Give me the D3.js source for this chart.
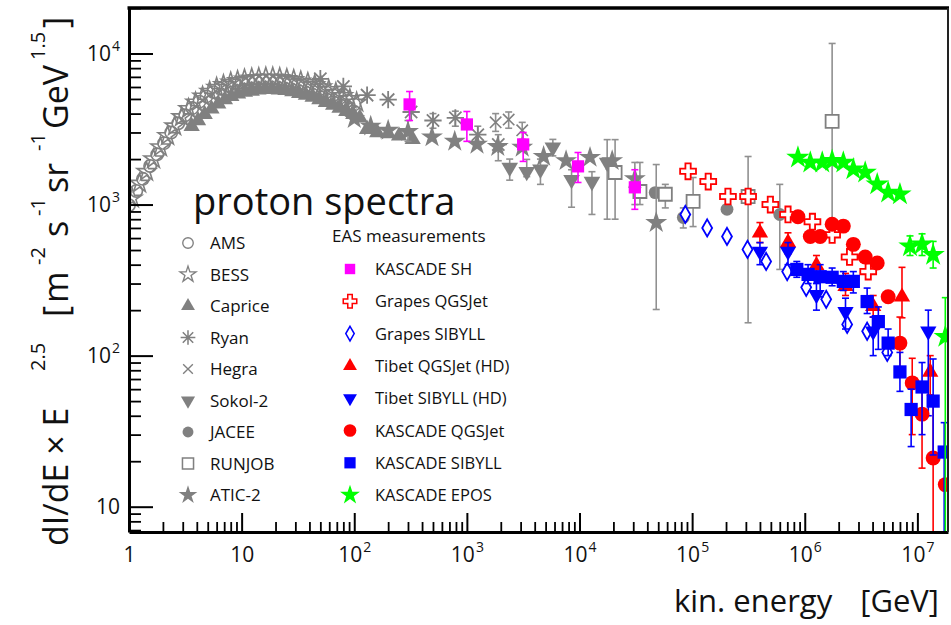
<!DOCTYPE html>
<html>
<head>
<meta charset="utf-8">
<script src="https://cdn.jsdelivr.net/npm/d3@7"></script>
<style>
  body { margin: 0; background: #fff; }
  svg { display: block; }
  text { font-family: "Open Sans", "DejaVu Sans", sans-serif; fill: #111; }
</style>
</head>
<body>
<svg id="chart" width="951" height="625"></svg>
<script>
// ---------- data: kinetic energy [GeV] and E^2.5-weighted flux ----------
const amsE = [1.0, 1.16, 1.33, 1.54, 1.78, 2.05, 2.37, 2.74, 3.16, 3.65, 4.22, 4.87, 5.62, 6.49, 7.5, 8.66, 10, 11.5, 13.3, 15.4, 17.8, 20.5, 23.7, 27.4, 31.6, 36.5, 42.2, 48.7, 56.2, 65, 75, 86.6, 100];
const amsF = [990, 1230, 1480, 1800, 2150, 2550, 3000, 3450, 3900, 4350, 4800, 5200, 5550, 5850, 6100, 6300, 6450, 6550, 6600, 6650, 6650, 6600, 6500, 6400, 6250, 6100, 5950, 5750, 5550, 5300, 5100, 4850, 4600];

const bessE = [1.07, 1.24, 1.43, 1.65, 1.9, 2.2, 2.54, 2.93, 3.38, 3.9, 4.5, 5.2, 6.0, 6.9, 8.0, 9.2, 10.6, 12.3, 14.2, 16.4, 18.9, 21.8, 25.2, 29, 33.5, 38.7, 44.6, 51.5, 59.4, 68.6, 79.1, 91.3, 105];
const bessF = [1100, 1380, 1650, 2000, 2400, 2850, 3300, 3800, 4300, 4750, 5200, 5600, 5950, 6200, 6450, 6600, 6750, 6850, 6900, 6950, 6950, 6900, 6800, 6700, 6550, 6400, 6200, 6000, 5750, 5500, 5250, 5000, 4750];

const capriceE = [3.6, 4.1, 4.7, 5.4, 6.2, 7.1, 8.1, 9.3, 10.7, 12.3, 14.1, 16.2, 18.6, 21.4, 24.5, 28.2, 32.4, 37.2, 42.7, 49, 56, 65, 74, 85, 98, 112, 130, 160, 200, 250, 330];
const capriceF = [3300, 3600, 3950, 4300, 4650, 4950, 5200, 5400, 5550, 5650, 5750, 5800, 5800, 5750, 5700, 5600, 5450, 5300, 5150, 4950, 4750, 4550, 4350, 4150, 3950, 3750, 3150, 3000, 2950, 2850, 2700];

const ryanE = [50, 80, 130, 200, 320, 500, 790, 1250, 1900];
const ryanF = [6800, 6050, 5300, 4950, 4100, 3600, 3750, 2900, 2500];
const ryanLo = [null, null, null, null, null, 3200, 3300, 2500, 1950];
const ryanHi = [null, null, null, null, null, 4000, 4150, 3300, 2900];

const hegraE = [1800, 2350, 3100];
const hegraF = [3500, 3650, 3100];
const hegraLo = [3050, 3200, 2700];
const hegraHi = [4000, 4100, 3500];

const sokolE = [2400, 3400, 4500, 5800, 8500, 12900, 17600];
const sokolF = [1760, 1650, 1710, 2390, 1460, 1420, 1900];
const sokolLo = [1450, 1530, 1360, 2100, 960, 860, 800];
const sokolHi = [2000, 1990, 2000, 2700, 1700, 1650, 2690];

const jaceeE = [47000, 83500, 204000, 600000];
const jaceeF = [1200, 820, 930, 860];
const jaceeLo = [null, 700, null, 372];
const jaceeHi = [null, 950, null, 1360];

const runjobE = [20700, 34400, 57800, 102000, 314000, 1750000];
const runjobF = [1630, 1220, 1170, 1050, 1130, 3550];
const runjobLo = [800, 1000, 950, 715, 165, 615];
const runjobHi = [2690, 1900, 1360, 1510, 2080, 11650];

const aticE = [100, 140, 200, 300, 490, 780, 1230, 1880, 3100, 4800, 7600, 12400, 19500, 31000, 48000];
const aticF = [3700, 3300, 3100, 3040, 2800, 2620, 2500, 2420, 2390, 2080, 1950, 2050, 1950, 1480, 760];
const aticLo = [null, null, null, 2620, null, null, null, null, null, null, null, null, null, 1000, 202];
const aticHi = [null, null, null, 3600, null, null, null, null, null, null, null, null, null, 1900, 1840];

const kascadeShE = [310, 1000, 3160, 9700, 31000];
const kascadeShF = [4600, 3390, 2500, 1790, 1300];
const kascadeShLo = [3600, 2620, 1930, 1400, 930];
const kascadeShHi = [5600, 4130, 3000, 2210, 1700];

const grapesQgsE = [92000, 139000, 208000, 314000, 495000, 710000, 1170000, 1750000, 2500000, 3660000];
const grapesQgsF = [1660, 1420, 1130, 1130, 1000, 860, 770, 630, 450, 360];

const grapesSibE = [87000, 136000, 204000, 310000, 454000, 698000, 1030000, 1550000, 2380000, 3580000, 5400000];
const grapesSibF = [860, 700, 615, 505, 420, 360, 283, 236, 161, 145, 105];

const tibetQgsE = [400000, 710000, 1270000, 2300000, 4050000, 7300000, 13000000];
const tibetQgsF = [650, 560, 395, 288, 212, 245, 78];
const tibetQgsLo = [560, 470, 350, 250, 180, 178, 55];
const tibetQgsHi = [760, 650, 460, 350, 250, 384, 100];

const tibetSibE = [400000, 710000, 1270000, 2300000, 4050000, 12500000];
const tibetSibF = [490, 490, 253, 195, 145, 145];
const tibetSibLo = [400, 400, 200, 150, 100, 40];
const tibetSibHi = [560, 560, 300, 240, 180, 200];

const kascadeQgsE = [870000, 1120000, 1370000, 1750000, 2200000, 2700000, 3440000, 4400000, 5500000, 7000000, 9000000, 11000000, 13800000, 17700000];
const kascadeQgsF = [830, 615, 615, 740, 720, 545, 450, 410, 245, 121, 66, 41, 21, 14];
const kascadeQgsLo = [null, null, null, null, null, null, null, null, null, 78, 30, 18, 1, null];
const kascadeQgsHi = [null, null, null, null, null, null, null, null, null, 180, 96, 60, 49, null];

const kascadeSibE = [850000, 1070000, 1370000, 1750000, 2200000, 2700000, 3580000, 4500000, 5500000, 7000000, 8800000, 11000000, 13800000, 17300000];
const kascadeSibF = [372, 345, 333, 330, 310, 310, 228, 168, 121, 78, 44, 62, 50, 23];
const kascadeSibLo = [330, 300, 245, 290, 270, 260, 190, 110, 100, 58, 25, 30, 22, 1];
const kascadeSibHi = [420, 400, 400, 380, 360, 360, 280, 210, 150, 105, 60, 90, 95, 36];

const kascadeEposE = [870000, 1120000, 1430000, 1750000, 2200000, 2700000, 3440000, 4400000, 5500000, 7000000, 8600000, 11000000, 13800000, 17700000];
const kascadeEposF = [2050, 1900, 1900, 1950, 1900, 1710, 1630, 1360, 1200, 1170, 530, 545, 465, 133];
const kascadeEposLo = [null, null, null, null, null, null, null, null, null, null, 460, 460, 380, 1];
const kascadeEposHi = [null, null, null, null, null, null, null, null, null, null, 620, 640, 570, 242];

const yTickLabels = [[10, "10", ""], [100, "10", "2"], [1000, "10", "3"], [10000, "10", "4"]];
const xTickLabels = [[1, "1", ""], [10, "10", ""], [1e2, "10", "2"], [1e3, "10", "3"], [1e4, "10", "4"], [1e5, "10", "5"], [1e6, "10", "6"], [1e7, "10", "7"]];

// ---------- layout ----------
const svg = d3.select("#chart");
const X0 = 129, X1 = 948, Y0 = 8, Y1 = 532;
const x = d3.scaleLog().domain([1, 1.87e7]).range([X0, X1]);
const y = d3.scaleLog().domain([6.8, 2.0e4]).range([Y1, Y0]);

const GRAY = "#808080", GRAY_ERR = "#909090";

// ---------- marker shapes ----------
const symbolAsterisk = {
  draw(ctx, size) {
    const r = Math.sqrt(size) / 2;
    for (let k = 0; k < 4; k++) {
      const a = k * Math.PI / 4;
      ctx.moveTo(r * Math.cos(a), r * Math.sin(a));
      ctx.lineTo(-r * Math.cos(a), -r * Math.sin(a));
    }
  }
};
const symbolX = {
  draw(ctx, size) {
    const r = Math.sqrt(size) / 2 * Math.SQRT1_2;
    ctx.moveTo(-r, -r); ctx.lineTo(r, r);
    ctx.moveTo(-r, r); ctx.lineTo(r, -r);
  }
};

const styles = {
  ams:      { type: d3.symbolCircle,   size: 120, fill: "none",    stroke: GRAY, sw: 1.6 },
  bess:     { type: d3.symbolStar,     size: 110, fill: "none",    stroke: GRAY, sw: 1.6 },
  caprice:  { type: d3.symbolTriangle, size: 115, fill: GRAY,      stroke: "none", sw: 0 },
  ryan:     { type: symbolAsterisk,    size: 300, fill: "none",    stroke: GRAY, sw: 1.8 },
  hegra:    { type: symbolX,           size: 260, fill: "none",    stroke: GRAY, sw: 1.6 },
  sokol:    { type: d3.symbolTriangle, size: 120, fill: GRAY,      stroke: "none", sw: 0, rot: 180 },
  jacee:    { type: d3.symbolCircle,   size: 130, fill: GRAY,      stroke: "none", sw: 0 },
  runjob:   { type: d3.symbolSquare,   size: 170, fill: "#fff",    stroke: GRAY, sw: 1.8 },
  atic:     { type: d3.symbolStar,     size: 150, fill: GRAY,      stroke: "none", sw: 0 },
  kSH:      { type: d3.symbolSquare,   size: 150, fill: "#ff00ff", stroke: "none", sw: 0 },
  gQgs:     { type: d3.symbolCross,    size: 140, fill: "#fff",    stroke: "#ff0000", sw: 1.8 },
  gSib:     { type: d3.symbolDiamond,  size: 85,  fill: "#fff",    stroke: "#0000ff", sw: 1.8 },
  tQgs:     { type: d3.symbolTriangle, size: 115, fill: "#ff0000", stroke: "none", sw: 0 },
  tSib:     { type: d3.symbolTriangle, size: 115, fill: "#0000ff", stroke: "none", sw: 0, rot: 180 },
  kQgs:     { type: d3.symbolCircle,   size: 175, fill: "#ff0000", stroke: "none", sw: 0 },
  kSib:     { type: d3.symbolSquare,   size: 175, fill: "#0000ff", stroke: "none", sw: 0 },
  kEpos:    { type: d3.symbolStar,     size: 170, fill: "#00ff00", stroke: "none", sw: 0 }
};

const series = [
  { st: "ams",     E: amsE,        F: amsF },
  { st: "bess",    E: bessE,       F: bessF },
  { st: "caprice", E: capriceE,    F: capriceF },
  { st: "ryan",    E: ryanE,       F: ryanF,       lo: ryanLo,       hi: ryanHi },
  { st: "hegra",   E: hegraE,      F: hegraF,      lo: hegraLo,      hi: hegraHi },
  { st: "sokol",   E: sokolE,      F: sokolF,      lo: sokolLo,      hi: sokolHi },
  { st: "jacee",   E: jaceeE,      F: jaceeF,      lo: jaceeLo,      hi: jaceeHi },
  { st: "runjob",  E: runjobE,     F: runjobF,     lo: runjobLo,     hi: runjobHi },
  { st: "atic",    E: aticE,       F: aticF,       lo: aticLo,       hi: aticHi },
  { st: "kSH",     E: kascadeShE,  F: kascadeShF,  lo: kascadeShLo,  hi: kascadeShHi, errColor: "#ff00ff" },
  { st: "gQgs",    E: grapesQgsE,  F: grapesQgsF },
  { st: "gSib",    E: grapesSibE,  F: grapesSibF },
  { st: "tQgs",    E: tibetQgsE,   F: tibetQgsF,   lo: tibetQgsLo,   hi: tibetQgsHi,   errColor: "#ff0000" },
  { st: "tSib",    E: tibetSibE,   F: tibetSibF,   lo: tibetSibLo,   hi: tibetSibHi,   errColor: "#0000ff" },
  { st: "kQgs",    E: kascadeQgsE, F: kascadeQgsF, lo: kascadeQgsLo, hi: kascadeQgsHi, errColor: "#ff0000" },
  { st: "kSib",    E: kascadeSibE, F: kascadeSibF, lo: kascadeSibLo, hi: kascadeSibHi, errColor: "#0000ff" },
  { st: "kEpos",   E: kascadeEposE,F: kascadeEposF,lo: kascadeEposLo,hi: kascadeEposHi,errColor: "#00ff00" }
];

function drawMarker(sel, st) {
  const s = styles[st];
  return sel.append("path")
    .attr("d", d3.symbol(s.type, s.size)())
    .attr("fill", s.fill)
    .attr("stroke", s.stroke)
    .attr("stroke-width", s.sw)
    .attr("stroke-linejoin", "miter");
}

// ---------- plot area ----------
svg.append("defs").append("clipPath").attr("id", "plotClip")
  .append("rect").attr("x", X0).attr("y", Y0).attr("width", X1 - X0).attr("height", Y1 - Y0);

const plot = svg.append("g").attr("clip-path", "url(#plotClip)");

series.forEach(sr => {
  const g = plot.append("g").attr("class", "series-" + sr.st);
  const pts = sr.E.map((e, i) => ({
    e, f: sr.F[i],
    lo: sr.lo ? sr.lo[i] : null,
    hi: sr.hi ? sr.hi[i] : null
  }));
  const ec = sr.errColor || GRAY_ERR;
  // error bars with small caps
  pts.filter(p => p.lo != null).forEach(p => {
    const cx = x(p.e), ylo = Math.min(y(p.lo), Y1 + 5), yhi = y(p.hi);
    g.append("line").attr("x1", cx).attr("x2", cx).attr("y1", ylo).attr("y2", yhi)
      .attr("stroke", ec).attr("stroke-width", 1.6);
    [ylo, yhi].forEach(yy => g.append("line")
      .attr("x1", cx - 3.5).attr("x2", cx + 3.5).attr("y1", yy).attr("y2", yy)
      .attr("stroke", ec).attr("stroke-width", 1.6));
  });
  pts.forEach(p => {
    const rot = styles[sr.st].rot ? ` rotate(${styles[sr.st].rot})` : "";
    drawMarker(g, sr.st).attr("transform", `translate(${x(p.e)},${y(p.f)})${rot}`);
  });
});

// ---------- axes ----------
const yMajor = [10, 100, 1000, 10000];
const yMinor = [];
[1, 10, 100, 1000, 10000].forEach(d => { for (let k = 2; k <= 9; k++) { const v = d * k; if (v >= 6.8 && v <= 2.0e4) yMinor.push(v); } });
const xMajor = [1, 10, 1e2, 1e3, 1e4, 1e5, 1e6, 1e7];
const xMinor = [];
xMajor.forEach(d => { for (let k = 2; k <= 9; k++) { const v = d * k; if (v <= 1.87e7) xMinor.push(v); } });

const fontTick = 21;

// y axis
svg.append("g").attr("transform", `translate(${X0},0)`)
  .call(d3.axisLeft(y).tickValues(yMinor).tickSizeInner(-12).tickSizeOuter(0).tickFormat(""))
  .call(g => g.select(".domain").remove())
  .call(g => g.selectAll(".tick line").attr("stroke", "#000").attr("stroke-width", 1.8));

svg.append("g").attr("transform", `translate(${X0},0)`)
  .call(d3.axisLeft(y).tickValues(yMajor).tickSizeInner(-24).tickSizeOuter(0).tickPadding(9).tickFormat(""))
  .call(g => g.select(".domain").attr("stroke", "#000").attr("stroke-width", 3))
  .call(g => g.selectAll(".tick line").attr("stroke", "#000").attr("stroke-width", 2))
  .call(g => g.selectAll(".tick text").each(function (d) {
    const lab = yTickLabels.find(t => t[0] === d);
    const t = d3.select(this).attr("font-size", fontTick).attr("fill", "#111");
    t.append("tspan").text(lab[1]);
    if (lab[2]) t.append("tspan").attr("font-size", 14).attr("dx", 1).attr("dy", -10).text(lab[2]);
  }));

// x axis
svg.append("g").attr("transform", `translate(0,${Y1})`)
  .call(d3.axisBottom(x).tickValues(xMinor).tickSizeInner(-10).tickSizeOuter(0).tickFormat(""))
  .call(g => g.select(".domain").remove())
  .call(g => g.selectAll(".tick line").attr("stroke", "#000").attr("stroke-width", 1.8));

svg.append("g").attr("transform", `translate(0,${Y1})`)
  .call(d3.axisBottom(x).tickValues(xMajor).tickSizeInner(-19).tickSizeOuter(0).tickPadding(15).tickFormat(""))
  .call(g => g.select(".domain").attr("stroke", "#000").attr("stroke-width", 3))
  .call(g => g.selectAll(".tick line").attr("stroke", "#000").attr("stroke-width", 2))
  .call(g => g.selectAll(".tick text").each(function (d) {
    const lab = xTickLabels.find(t => t[0] === d);
    const t = d3.select(this).attr("font-size", fontTick).attr("fill", "#111");
    t.append("tspan").text(lab[1]);
    if (lab[2]) t.append("tspan").attr("font-size", 14).attr("dx", 1).attr("dy", -10).text(lab[2]);
  }));

// frame: top and right edges
svg.append("line").attr("x1", X0 - 1.5).attr("x2", X1 + 1).attr("y1", Y0).attr("y2", Y0)
  .attr("stroke", "#000").attr("stroke-width", 3.5);
svg.append("line").attr("x1", X1).attr("x2", X1).attr("y1", Y0).attr("y2", Y1)
  .attr("stroke", "#222").attr("stroke-width", 2);

// ---------- titles ----------
svg.append("text").attr("x", 674).attr("y", 612).attr("font-size", 31).text("kin. energy");
svg.append("text").attr("x", 939).attr("y", 612).attr("font-size", 31).attr("text-anchor", "end").text("[GeV]");

// vertical title: each piece placed along the rotated baseline, exponents raised
const yTitle = svg.append("text")
  .attr("transform", "translate(68,546) rotate(-90)")
  .attr("font-size", 34);
const yParts = [
  ["dI/dE \u00d7 E", 0, 0], ["2.5", 1, 175], ["[", 0, 229], ["m", 0, 243], ["-2", 1, 281],
  ["s", 0, 309], ["-1", 1, 330], ["sr", 0, 353], ["-1", 1, 395], ["GeV", 0, 417],
  ["1.5", 1, 486], ["]", 0, 518]
];
yParts.forEach(([txt, sup, pos]) => {
  const ts = yTitle.append("tspan").attr("x", pos).attr("y", sup ? -23 : 0).text(txt);
  if (sup) ts.attr("font-size", 20);
});

svg.append("text").attr("x", 193).attr("y", 215).attr("font-size", 38).text("proton spectra");
svg.append("text").attr("x", 332).attr("y", 242).attr("font-size", 17).text("EAS measurements");

// ---------- legend ----------
const legendLeft = [
  ["ams", "AMS"], ["bess", "BESS"], ["caprice", "Caprice"], ["ryan", "Ryan"], ["hegra", "Hegra"],
  ["sokol", "Sokol-2"], ["jacee", "JACEE"], ["runjob", "RUNJOB"], ["atic", "ATIC-2"]
];
const legendRight = [
  ["kSH", "KASCADE SH"], ["gQgs", "Grapes QGSJet"], ["gSib", "Grapes SIBYLL"], ["tQgs", "Tibet QGSJet (HD)"],
  ["tSib", "Tibet SIBYLL (HD)"], ["kQgs", "KASCADE QGSJet"], ["kSib", "KASCADE SIBYLL"], ["kEpos", "KASCADE EPOS"]
];
const rowY0 = 243, rowStep = 31.5;
legendLeft.forEach(([st, label], i) => {
  const yy = rowY0 + i * rowStep;
  const rot = styles[st].rot ? ` rotate(${styles[st].rot})` : "";
  drawMarker(svg, st).attr("transform", `translate(188,${yy})${rot} scale(0.85)`);
  svg.append("text").attr("x", 210).attr("y", yy + 6).attr("font-size", 17).text(label);
});
legendRight.forEach(([st, label], i) => {
  const yy = 269 + i * 32.3;
  const rot = styles[st].rot ? ` rotate(${styles[st].rot})` : "";
  drawMarker(svg, st).attr("transform", `translate(350,${yy})${rot} scale(0.85)`);
  svg.append("text").attr("x", 375).attr("y", yy + 6).attr("font-size", 16.5).text(label);
});
</script>
</body>
</html>
